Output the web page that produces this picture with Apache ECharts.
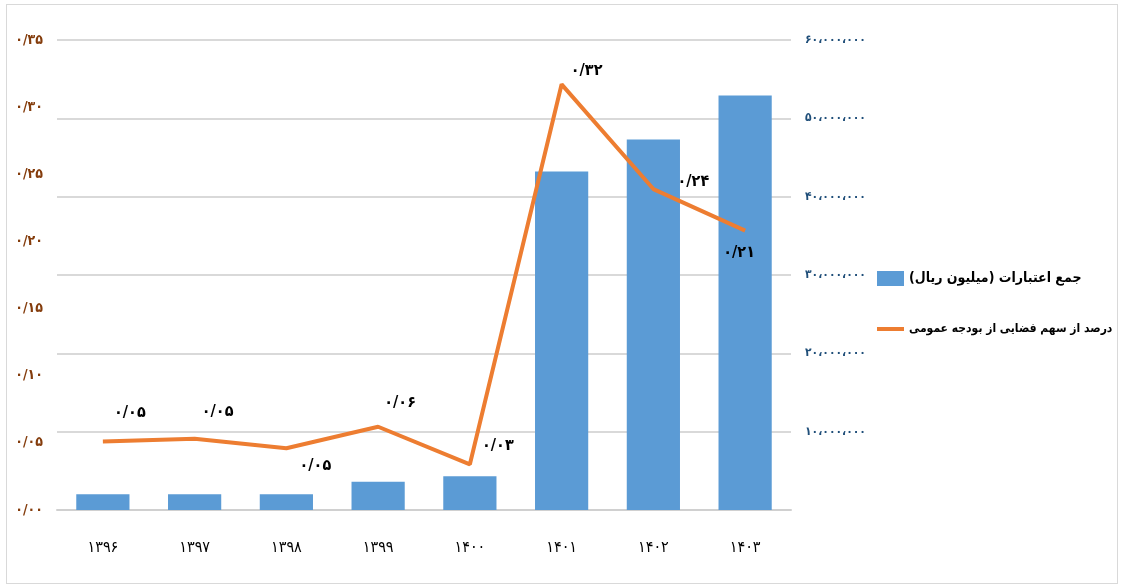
<!DOCTYPE html>
<html><head><meta charset="utf-8">
<script src="https://cdn.jsdelivr.net/npm/echarts@6/dist/echarts.min.js"></script>
<style>
html,body{margin:0;padding:0;background:#fff;}
#frame{position:absolute;left:6px;top:4px;width:1112px;height:580px;border:1px solid #d9d9d9;box-sizing:border-box;}
#c{position:absolute;left:0;top:0;width:1121px;height:587px;}
</style></head>
<body><div id="frame"></div><div id="c"></div>
<script>
const categories = ['1396','1397','1398','1399','1400','1401','1402','1403'];
const creditsMillionRial = [2000000, 2000000, 2000000, 3600000, 4300000, 43200000, 47300000, 52900000];
const sharePercent = [0.051, 0.053, 0.046, 0.062, 0.034, 0.317, 0.239, 0.208];
const barName = 'جمع اعتبارات (میلیون ریال)';
const lineName = 'درصد از سهم فضایی از بودجه عمومی';

const fa = s => String(s).replace(/[0-9]/g, d => '۰۱۲۳۴۵۶۷۸۹'[d]);
const fmtDec = v => fa(v.toFixed(2)).replace('.', '/');
const fmtThousands = v => fa(String(v).replace(/\B(?=(\d{3})+(?!\d))/g, '،'));
const FONT = 'DejaVu Sans Condensed';

// label placement (style): offsets of label centre from the point
const labelOffsets = [[27,-29],[23,-27],[29,18],[22,-24],[28,-18],[25,-13],[40,-7],[-6,22]];
const lineData = sharePercent.map((v,i)=>({value:v, label:{position:'inside', offset:labelOffsets[i]}}));

const chart = echarts.init(document.getElementById('c'));
chart.setOption({
  animation:false,
  textStyle:{fontFamily:FONT},
  grid:{left:57,right:330,top:40,bottom:77},
  legend:{
    orient:'vertical', left:872, top:266, itemGap:38, itemWidth:27, itemHeight:15, itemGap:37,
    textStyle:{fontFamily:FONT,fontWeight:'bold',fontSize:14,color:'#000'},
    data:[
      {name:barName,icon:'rect'},
      {name:lineName,icon:'path://M0,0L27,0L27,4L0,4Z',textStyle:{fontSize:12,fontWeight:'bold',color:'#000'}}
    ]
  },
  xAxis:{
    type:'category', data:categories,
    axisLine:{lineStyle:{color:'#d0d0d0',width:2}},
    axisTick:{show:false},
    axisLabel:{formatter:v=>fa(v),color:'#000',fontSize:16,margin:30,fontFamily:FONT}
  },
  yAxis:[
    {type:'value',min:0,max:0.35,interval:0.05,position:'left',
     axisLine:{show:false},axisTick:{show:false},splitLine:{show:false},
     axisLabel:{formatter:v=>fmtDec(v),color:'#843C0C',fontWeight:'bold',fontSize:14,margin:14,fontFamily:FONT}},
    {type:'value',min:0,max:60000000,interval:10000000,position:'right',
     axisLine:{show:false},axisTick:{show:false},
     splitLine:{lineStyle:{color:'#d9d9d9',width:2}},
     axisLabel:{formatter:v=>v===0?'':fmtThousands(v),color:'#1F4E79',fontWeight:'bold',fontSize:12,margin:14,fontFamily:FONT}}
  ],
  series:[
    {name:barName,type:'bar',yAxisIndex:1,data:creditsMillionRial,barWidth:'58%',
     itemStyle:{color:'#5B9BD5'}},
    {name:lineName,type:'line',yAxisIndex:0,data:lineData,symbol:'circle',symbolSize:0.1,
     lineStyle:{color:'#ED7D31',width:4},itemStyle:{color:'#ED7D31'},
     label:{show:true,formatter:p=>fmtDec(p.value),color:'#000',fontWeight:'bold',fontSize:16,fontFamily:FONT}}
  ]
});
</script></body></html>
